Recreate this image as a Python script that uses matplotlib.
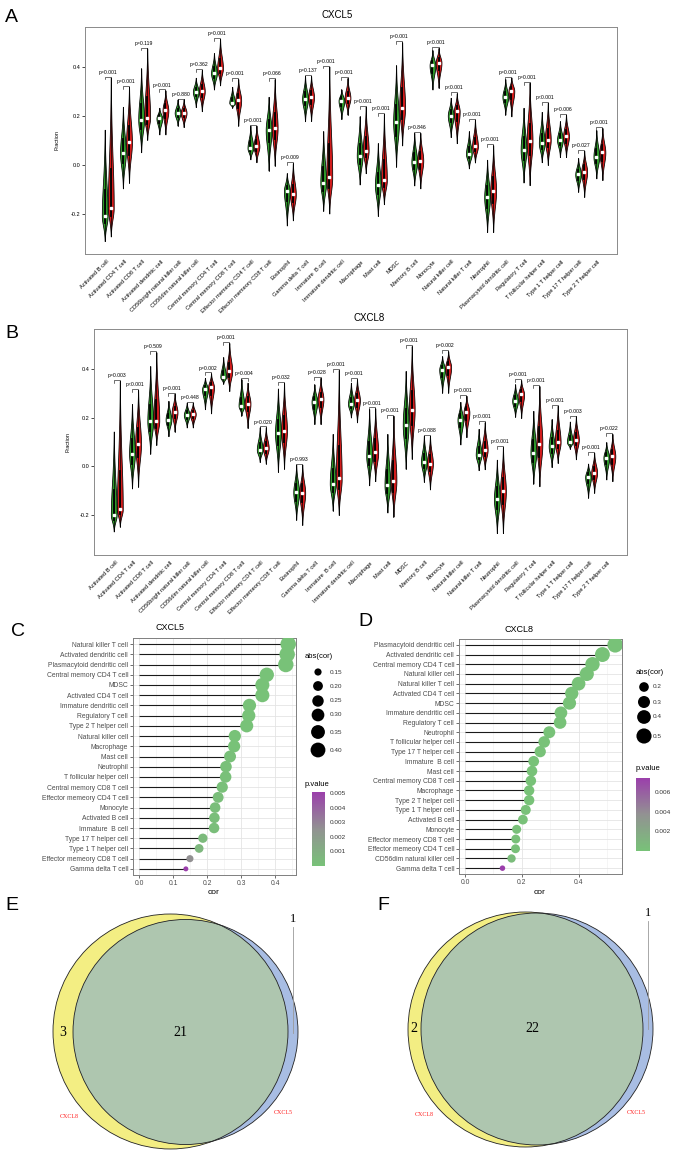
import numpy as np
import matplotlib
matplotlib.use("Agg")
import matplotlib.pyplot as plt
from matplotlib.patches import Ellipse
from matplotlib.colors import LinearSegmentedColormap, Normalize
from matplotlib.colorbar import ColorbarBase
from matplotlib.ticker import MultipleLocator

plt.rcParams['font.family'] = ['Liberation Sans', 'DejaVu Sans']

# ---------------- data ----------------
cells = ["Activated B cell", "Activated CD4 T cell", "Activated CD8 T cell", "Activated dendritic cell",
         "CD56bright natural killer cell", "CD56dim natural killer cell", "Central memory CD4 T cell",
         "Central memory CD8 T cell", "Effector memeory CD4 T cell", "Effector memeory CD8 T cell",
         "Eosinophil", "Gamma delta T cell", "Immature  B cell", "Immature dendritic cell", "Macrophage",
         "Mast cell", "MDSC", "Memory B cell", "Monocyte", "Natural killer cell", "Natural killer T cell",
         "Neutrophil", "Plasmacytoid dendritic cell", "Regulatory T cell", "T follicular helper cell",
         "Type 1 T helper cell", "Type 17 T helper cell", "Type 2 T helper cell"]

# panel A (CXCL5) low (green) / high (red) groups: min, median, max
a_g_lo = [-0.312, -0.096, 0.052, 0.125, 0.161, 0.237, 0.309, 0.234, 0.023, -0.023, -0.248, 0.179, -0.188, 0.188,
          -0.080, -0.209, -0.007, -0.084, 0.309, 0.114, -0.014, -0.275, 0.206, -0.072, 0.011, 0.032, -0.110, -0.055]
a_g_med = [-0.209, 0.050, 0.186, 0.191, 0.213, 0.300, 0.375, 0.254, 0.069, 0.142, -0.106, 0.271, -0.073, 0.263,
           0.037, -0.083, 0.175, 0.011, 0.408, 0.202, 0.045, -0.133, 0.279, 0.062, 0.089, 0.103, -0.039, 0.034]
a_g_hi = [0.144, 0.238, 0.395, 0.234, 0.268, 0.357, 0.458, 0.320, 0.161, 0.279, -0.034, 0.364, 0.138, 0.309,
          0.199, 0.089, 0.408, 0.131, 0.470, 0.275, 0.138, 0.021, 0.351, 0.234, 0.217, 0.179, 0.028, 0.142]
a_r_lo = [-0.293, -0.073, 0.103, 0.125, 0.155, 0.220, 0.326, 0.161, 0.011, -0.003, -0.227, 0.180, -0.199, 0.206,
          -0.034, -0.161, 0.080, -0.096, 0.316, 0.089, 0.010, -0.275, 0.199, -0.083, 0.000, 0.032, -0.131, -0.062]
a_r_med = [-0.176, 0.092, 0.194, 0.223, 0.213, 0.302, 0.396, 0.265, 0.076, 0.151, -0.120, 0.278, -0.051, 0.274,
           0.059, -0.062, 0.234, 0.018, 0.419, 0.219, 0.076, -0.106, 0.303, 0.096, 0.103, 0.117, -0.028, 0.051]
a_r_hi = [0.358, 0.320, 0.477, 0.305, 0.268, 0.389, 0.516, 0.351, 0.161, 0.351, 0.007, 0.364, 0.403, 0.356,
          0.239, 0.209, 0.502, 0.131, 0.479, 0.293, 0.186, 0.080, 0.358, 0.337, 0.254, 0.206, 0.058, 0.151]
a_p = ["p=0.001", "p=0.001", "p=0.119", "p=0.001", "p=0.880", "p=0.362", "p=0.001", "p=0.001", "p=0.001",
       "p=0.066", "p=0.009", "p=0.137", "p=0.001", "p=0.001", "p=0.001", "p<0.001", "p=0.001", "p=0.846",
       "p<0.001", "p<0.001", "p<0.001", "p<0.001", "p=0.001", "p=0.001", "p<0.001", "p=0.006", "p=0.027",
       "p<0.001"]

# panel B (CXCL8)
b_g_lo = [-0.268, -0.091, 0.052, 0.124, 0.160, 0.235, 0.340, 0.209, 0.018, -0.023, -0.220, 0.174, -0.182, 0.201,
          -0.078, -0.190, -0.010, -0.064, 0.303, 0.090, -0.016, -0.275, 0.204, -0.071, -0.003, 0.072, -0.129, -0.054]
b_g_med = [-0.200, 0.052, 0.185, 0.192, 0.211, 0.317, 0.367, 0.249, 0.068, 0.137, -0.107, 0.265, -0.071, 0.256,
           0.041, -0.078, 0.170, 0.018, 0.398, 0.192, 0.048, -0.135, 0.269, 0.056, 0.082, 0.099, -0.044, 0.035]
b_g_hi = [0.143, 0.256, 0.412, 0.269, 0.262, 0.364, 0.449, 0.358, 0.160, 0.320, 0.007, 0.337, 0.133, 0.344,
          0.235, 0.133, 0.392, 0.126, 0.453, 0.265, 0.154, 0.027, 0.337, 0.228, 0.194, 0.184, 0.011, 0.099]
b_r_lo = [-0.248, -0.084, 0.088, 0.143, 0.160, 0.218, 0.310, 0.158, 0.011, -0.010, -0.241, 0.174, -0.200, 0.181,
          -0.061, -0.207, 0.031, -0.095, 0.303, 0.120, -0.012, -0.275, 0.199, -0.082, 0.014, 0.029, -0.109, -0.061]
b_r_med = [-0.177, 0.092, 0.188, 0.222, 0.215, 0.326, 0.392, 0.258, 0.075, 0.147, -0.109, 0.276, -0.050, 0.272,
           0.058, -0.060, 0.231, 0.011, 0.408, 0.222, 0.068, -0.102, 0.296, 0.092, 0.099, 0.110, -0.026, 0.041]
b_r_hi = [0.351, 0.314, 0.469, 0.299, 0.262, 0.382, 0.507, 0.344, 0.160, 0.344, 0.007, 0.364, 0.396, 0.358,
          0.238, 0.208, 0.494, 0.126, 0.473, 0.290, 0.181, 0.079, 0.354, 0.330, 0.249, 0.205, 0.056, 0.133]
b_p = ["p=0.003", "p<0.001", "p=0.509", "p=0.001", "p=0.448", "p=0.002", "p=0.001", "p=0.004", "p=0.020",
       "p=0.032", "p=0.993", "p=0.028", "p<0.001", "p=0.001", "p=0.001", "p=0.001", "p=0.001", "p=0.088",
       "p=0.002", "p=0.001", "p<0.001", "p<0.001", "p=0.001", "p<0.001", "p=0.001", "p=0.003", "p=0.001",
       "p=0.022"]

# panel C / D lollipops
c_cells = ["Natural killer T cell", "Activated dendritic cell", "Plasmacytoid dendritic cell",
           "Central memory CD4 T cell", "MDSC", "Activated CD4 T cell", "Immature dendritic cell",
           "Regulatory T cell", "Type 2 T helper cell", "Natural killer cell", "Macrophage", "Mast cell",
           "Neutrophil", "T follicular helper cell", "Central memory CD8 T cell", "Effector memeory CD4 T cell",
           "Monocyte", "Activated B cell", "Immature  B cell", "Type 17 T helper cell", "Type 1 T helper cell",
           "Effector memeory CD8 T cell", "Gamma delta T cell"]
c_cor = [0.438, 0.435, 0.431, 0.375, 0.362, 0.362, 0.324, 0.322, 0.316, 0.281, 0.279, 0.267, 0.255, 0.254,
         0.244, 0.232, 0.223, 0.221, 0.220, 0.187, 0.176, 0.149, 0.137]
c_pval = [0.0000, 0.0000, 0.0000, 0.0000, 0.0000, 0.0000, 0.0000, 0.0000, 0.0000, 0.0000, 0.0000, 0.0001,
          0.0001, 0.0001, 0.0001, 0.0002, 0.0002, 0.0002, 0.0002, 0.0004, 0.0006, 0.0026, 0.0051]

d_cells = ["Plasmacytoid dendritic cell", "Activated dendritic cell", "Central memory CD4 T cell",
           "Natural killer cell", "Natural killer T cell", "Activated CD4 T cell", "MDSC",
           "Immature dendritic cell", "Regulatory T cell", "Neutrophil", "T follicular helper cell",
           "Type 17 T helper cell", "Immature  B cell", "Mast cell", "Central memory CD8 T cell", "Macrophage",
           "Type 2 T helper cell", "Type 1 T helper cell", "Activated B cell", "Monocyte",
           "Effector memeory CD8 T cell", "Effector memeory CD4 T cell", "CD56dim natural killer cell",
           "Gamma delta T cell"]
d_cor = [0.529, 0.484, 0.449, 0.429, 0.400, 0.376, 0.368, 0.338, 0.335, 0.297, 0.279, 0.265, 0.242, 0.236,
         0.232, 0.226, 0.226, 0.214, 0.204, 0.182, 0.179, 0.178, 0.164, 0.132]
d_pval = [0.0000, 0.0000, 0.0000, 0.0000, 0.0000, 0.0000, 0.0000, 0.0000, 0.0000, 0.0000, 0.0000, 0.0000,
          0.0000, 0.0000, 0.0000, 0.0000, 0.0000, 0.0001, 0.0001, 0.0002, 0.0002, 0.0002, 0.0005, 0.0074]

# venn counts: only CXCL8, both, only CXCL5
e_counts = [3, 21, 1]
f_counts = [2, 22, 1]

# ---------------- layout helpers ----------------
W, H = 682, 1152
fig = plt.figure(figsize=(W / 100, H / 100), dpi=100)


def rect(x0, y0, x1, y1):
    return [x0 / W, 1 - y1 / H, (x1 - x0) / W, (y1 - y0) / H]


GREEN, RED = "#2f9a2a", "#d21c1c"


def violin(ax, pos, lo, med, hi, color):
    y = np.linspace(lo, hi, 150)
    s = np.where(y >= med, max(hi - med, 0.004) / 2.6, max(med - lo, 0.004) / 2.6)
    w = 0.48 * np.exp(-0.5 * ((y - med) / s) ** 2)
    ax.fill_betweenx(y, pos - w, pos + w, facecolor=color, edgecolor="black", lw=0.55, zorder=2)
    ax.plot([pos, pos], [lo, hi], color="black", lw=0.5, zorder=3)
    ax.plot([pos, pos], [med - (med - lo) * 0.3, med + (hi - med) * 0.3], color="black", lw=1.3, zorder=3)
    ax.plot(pos, med, marker="s", ms=1.7, mfc="white", mec="white", zorder=4)


def violin_panel(ax, g_lo, g_med, g_hi, r_lo, r_med, r_hi, pv):
    for i in range(len(cells)):
        xg, xr = 3 * i + 1, 3 * i + 2
        violin(ax, xg, g_lo[i], g_med[i], g_hi[i], GREEN)
        violin(ax, xr, r_lo[i], r_med[i], r_hi[i], RED)
        top = max(g_hi[i], r_hi[i]) + 0.004
        ax.plot([xg, xg, xr, xr], [top - 0.012, top, top, top - 0.012], color="black", lw=0.4)
        ax.text((xg + xr) / 2, top + 0.008, pv[i], ha="center", va="bottom", fontsize=3.7)
    ax.set_xlim(-2.25, 85.4)
    ax.set_ylim(-0.365, 0.565)
    ax.set_xticks([3 * i + 1.5 for i in range(len(cells))])
    ax.set_xticklabels(cells, rotation=45, ha="right", va="center", rotation_mode="anchor", fontsize=4.1)
    ax.tick_params(axis="x", length=0, pad=5)
    ax.set_yticks([-0.2, 0.0, 0.2, 0.4])
    ax.set_yticklabels(["-0.2", "0.0", "0.2", "0.4"])
    ax.tick_params(axis="y", length=2, width=0.5, labelsize=4, pad=1.5)
    for sp in ax.spines.values():
        sp.set_color("#8a8a8a")
        sp.set_linewidth(0.7)


pcmap = LinearSegmentedColormap.from_list("pv", ["#78c278", "#929292", "#9b3fab"])


def sizes(vals, lo, hi, dmin, dmax):
    v = np.asarray(vals)
    d = dmin + (dmax - dmin) * np.sqrt(np.clip((v - lo) / (hi - lo), 0, 1))
    return (d * 0.72) ** 2


def lolli(ax, names, cors, pv, norm, xlim, major, minor, smin, smax):
    n = len(names)
    ypos = np.arange(n)[::-1]
    ax.hlines(ypos, 0, cors, color="#1a1a1a", lw=0.8, zorder=2)
    ax.scatter(cors, ypos, s=sizes(cors, min(cors), max(cors), smin, smax), c=pv, cmap=pcmap, norm=norm,
               linewidths=0, zorder=3)
    ax.set_yticks(ypos)
    ax.set_yticklabels(names, fontsize=4.9, color="#333333")
    ax.set_ylim(-0.6, n - 0.4)
    ax.set_xlim(*xlim)
    ax.xaxis.set_major_locator(MultipleLocator(major))
    ax.xaxis.set_minor_locator(MultipleLocator(minor))
    ax.tick_params(axis="both", which="major", length=2, width=0.5, color="#333333", labelsize=4.9,
                   labelcolor="#4d4d4d", pad=1.5)
    ax.tick_params(axis="x", which="minor", length=0)
    ax.set_axisbelow(True)
    ax.grid(which="major", color="#e4e4e4", lw=0.6)
    ax.grid(which="minor", axis="x", color="#eeeeee", lw=0.4)
    for sp in ax.spines.values():
        sp.set_color("#7f7f7f")
        sp.set_linewidth(0.7)


# ---------------- panels A, B ----------------
axA = fig.add_axes(rect(85, 27, 617, 254))
violin_panel(axA, a_g_lo, a_g_med, a_g_hi, a_r_lo, a_r_med, a_r_hi, a_p)
axB = fig.add_axes(rect(94, 329, 627, 555))
violin_panel(axB, b_g_lo, b_g_med, b_g_hi, b_r_lo, b_r_med, b_r_hi, b_p)

# ---------------- panels C, D ----------------
axC = fig.add_axes(rect(133, 638, 296, 875))
normC = Normalize(min(c_pval), max(c_pval))
lolli(axC, c_cells, c_cor, c_pval, normC, (-0.0185, 0.461), 0.1, 0.05, 5.0, 15.5)
axD = fig.add_axes(rect(459, 639, 622, 874))
normD = Normalize(min(d_pval), max(d_pval))
lolli(axD, d_cells, d_cor, d_pval, normD, (-0.021, 0.553), 0.2, 0.1, 5.5, 15.5)

caxC = fig.add_axes(rect(312, 792, 325, 866))
cbC = ColorbarBase(caxC, cmap=pcmap, norm=normC)
cbC.outline.set_visible(False)
cbC.set_ticks([0.001, 0.002, 0.003, 0.004, 0.005])
caxD = fig.add_axes(rect(636, 778, 650, 851))
cbD = ColorbarBase(caxD, cmap=pcmap, norm=normD)
cbD.outline.set_visible(False)
cbD.set_ticks([0.002, 0.004, 0.006])
for cax in (caxC, caxD):
    cax.tick_params(length=2, width=0.5, color="white", labelsize=4.6, labelcolor="#333333", pad=1.5)

# ---------------- overlay: labels, legends, venn ----------------
ov = fig.add_axes([0, 0, 1, 1])
ov.set_xlim(0, W)
ov.set_ylim(H, 0)
ov.axis("off")
ov.set_facecolor("none")

for lab, x, y in [("A", 11, 17), ("B", 12, 333), ("C", 18, 631), ("D", 365, 622), ("E", 12, 906),
                  ("F", 383, 906)]:
    ov.text(x, y, lab, fontsize=14, ha="center", va="center")
ov.text(337, 15, "CXCL5", fontsize=7, ha="center", va="center")
ov.text(369, 318, "CXCL8", fontsize=7, ha="center", va="center")
ov.text(57, 140, "Fraction", fontsize=4, rotation=90, ha="center", va="center")
ov.text(68, 442, "Fraction", fontsize=4, rotation=90, ha="center", va="center")
ov.text(170, 628, "CXCL5", fontsize=6.5, ha="center", va="center")
ov.text(519, 629, "CXCL8", fontsize=6.5, ha="center", va="center")
ov.text(214, 892, "cor", fontsize=6, ha="center", va="center")
ov.text(540, 892, "cor", fontsize=6, ha="center", va="center")

# size legends
c_leg = [0.15, 0.20, 0.25, 0.30, 0.35, 0.40]
c_leg_y = [672, 686, 701, 715, 732, 750]
ov.text(305, 657, "abs(cor)", fontsize=5.5, ha="left", va="center")
ov.scatter([318] * len(c_leg), c_leg_y, s=sizes(c_leg, min(c_cor), max(c_cor), 5.0, 15.5), color="black",
           linewidths=0)
for v, y in zip(c_leg, c_leg_y):
    ov.text(330, y, f"{v:.2f}", fontsize=4.6, color="#333333", ha="left", va="center")
ov.text(305, 785, "p.value", fontsize=5.5, ha="left", va="center")

d_leg = [0.2, 0.3, 0.4, 0.5]
d_leg_y = [687, 702, 717, 736]
ov.text(636, 672, "abs(cor)", fontsize=5.5, ha="left", va="center")
ov.scatter([644] * len(d_leg), d_leg_y, s=sizes(d_leg, min(d_cor), max(d_cor), 5.5, 15.5), color="black",
           linewidths=0)
for v, y in zip(d_leg, d_leg_y):
    ov.text(653, y, f"{v:.1f}", fontsize=4.6, color="#333333", ha="left", va="center")
ov.text(636, 768, "p.value", fontsize=5.5, ha="left", va="center")


# venn diagrams
def venn(yc, yr, bc, br, counts, pos):
    yel = Ellipse(yc, 2 * yr, 2 * yr, facecolor="#f3ee83", edgecolor="none")
    blu = Ellipse(bc, 2 * br, 2 * br, facecolor="#a8bde3", edgecolor="none")
    ov.add_patch(yel)
    ov.add_patch(blu)
    inter = Ellipse(bc, 2 * br, 2 * br, facecolor="#aec6af", edgecolor="none")
    ov.add_patch(inter)
    inter.set_clip_path(yel)
    for c, r in ((yc, yr), (bc, br)):
        ov.add_patch(Ellipse(c, 2 * r, 2 * r, facecolor="none", edgecolor="#222222", lw=0.6))
    (x3, y3), (x21, y21), (x1, y1), (l8, l5) = pos
    kw = dict(family=["Liberation Serif", "DejaVu Serif"], ha="center", va="center")
    ov.text(x3, y3, str(counts[0]), fontsize=10, **kw)
    ov.text(x21, y21, str(counts[1]), fontsize=10, **kw)
    ov.text(x1, y1, str(counts[2]), fontsize=9, **kw)
    ov.plot([x1, x1], [y1 + 8, y21], color="#9a9a9a", lw=0.6)
    ov.text(l8[0], l8[1], "CXCL8", fontsize=4.3, color="#ff1f1f", **kw)
    ov.text(l5[0], l5[1], "CXCL5", fontsize=4.3, color="#ff1f1f", **kw)


venn((170.5, 1031.5), 117.5, (185.5, 1032), 112.5, e_counts,
     [(63, 1033), (180, 1033), (293, 919), ((69, 1117), (283, 1113))])
venn((525.5, 1029.5), 117.5, (537, 1029), 116, f_counts,
     [(414, 1029), (532, 1029), (648, 913), ((424, 1114), (636, 1113))])

fig.savefig("out.png", dpi=100)
